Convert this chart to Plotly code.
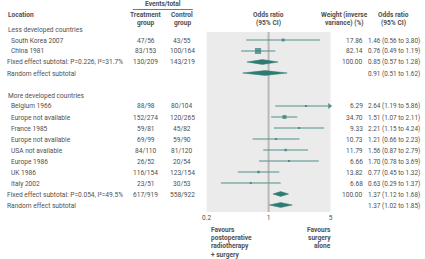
import plotly.graph_objects as go
import math

# ---------------- data ----------------
study_labels = ["South Korea 2007", "China 1981",
                "Belgium 1966", "Europe not available", "France 1985", "Europe not available",
                "USA not available", "Europe 1986", "UK 1986", "Italy 2002"]
study_rows = [0, 1, 6, 7, 8, 9, 10, 11, 12, 13]
study_treat = ["47/56", "83/153", "88/98", "152/274", "59/81", "69/99", "84/110", "26/52", "116/154", "23/51"]
study_ctrl = ["43/55", "100/164", "80/104", "120/265", "45/82", "59/90", "81/120", "20/54", "123/154", "30/53"]
study_or = [1.46, 0.76, 2.64, 1.51, 2.21, 1.21, 1.56, 1.70, 0.77, 0.63]
study_lo = [0.56, 0.49, 1.19, 1.07, 1.15, 0.66, 0.87, 0.78, 0.45, 0.29]
study_hi = [3.80, 1.19, 5.86, 2.11, 4.24, 2.23, 2.79, 3.69, 1.32, 1.37]
study_weight = [17.86, 82.14, 6.29, 34.70, 9.33, 10.73, 11.79, 6.66, 13.82, 6.68]

pooled_labels = ["Fixed effect subtotal: P=0.226, I\u00b2=31.7%", "Random effect subtotal",
                 "Fixed effect subtotal: P=0.054, I\u00b2=49.5%", "Random effect subtotal"]
pooled_rows = [2, 3, 14, 15]
pooled_treat = ["130/209", "", "617/919", ""]
pooled_ctrl = ["143/219", "", "558/922", ""]
pooled_weight = ["100.00", "", "100.00", ""]
pooled_or = [0.85, 0.91, 1.37, 1.37]
pooled_lo = [0.57, 0.51, 1.12, 1.02]
pooled_hi = [1.28, 1.62, 1.68, 1.85]

group_labels = ["Less developed countries", "More developed countries"]
group_rows = [-1, 5]

tick_vals = [0.2, 1, 5]
tick_text = ["0.2", "1", "5"]
x_min, x_max = 0.2, 5

# ---------------- layout constants ----------------
W, H = 425, 259
FONT = "Roboto"
FS = 6.6
FS_OR = 6.4
TXT = "#505050"
TEAL = "#2e7b74"
TEAL_LINE = "#4f8f89"
row0_px, row_step = 40.0, 11.0
panel_top, panel_bot = 32.0, 212.0
panel_left, panel_right = 205.0, 331.0


def row_px(r):
    return row0_px + row_step * r


def py(px):
    return 1 - px / H


def px_x(px):
    return px / W


fig = go.Figure()

# CI whiskers
for r, lo, hi in zip(study_rows, study_lo, study_hi):
    fig.add_trace(go.Scatter(x=[lo, min(hi, x_max * 0.985)], y=[r, r], mode="lines",
                             line=dict(color=TEAL_LINE, width=1), hoverinfo="skip",
                             showlegend=False))
    if hi > x_max:
        fig.add_trace(go.Scatter(x=[x_max * 0.975], y=[r], mode="markers",
                                 marker=dict(symbol="triangle-right", size=5, color=TEAL_LINE),
                                 hoverinfo="skip", showlegend=False, cliponaxis=False))

# point estimates (square size ~ sqrt(weight))
fig.add_trace(go.Scatter(x=study_or, y=study_rows, mode="markers",
                         marker=dict(symbol="square", color=TEAL,
                                     size=[max(2.0, 0.68 * math.sqrt(w)) for w in study_weight],
                                     line=dict(width=0)),
                         hoverinfo="skip", showlegend=False))

# diamonds
dh = 0.22
for r, est, lo, hi in zip(pooled_rows, pooled_or, pooled_lo, pooled_hi):
    fig.add_trace(go.Scatter(x=[lo, est, hi, est, lo], y=[r, r - dh, r, r + dh, r],
                             mode="lines", fill="toself", fillcolor=TEAL,
                             line=dict(color=TEAL, width=0.5), hoverinfo="skip",
                             showlegend=False))

# reference line at 1
fig.add_shape(type="line", xref="x", yref="paper", x0=1, x1=1,
              y0=py(panel_bot), y1=py(panel_top), line=dict(color="#b8b8b8", width=2), layer="below")

ann = []


def text(x, y, s, anchor="left", bold=False, size=FS, yref="paper", color=TXT):
    ann.append(dict(x=x, y=y, xref="paper", yref=yref, text=("<b>%s</b>" % s) if bold else s,
                    showarrow=False, xanchor=anchor, yanchor="middle",
                    font=dict(family=FONT, size=size, color=color)))


# headers
text(px_x(161), py(4.5), "Events/total", anchor="center", bold=True)
fig.add_shape(type="line", xref="paper", yref="paper", x0=px_x(130), x1=px_x(191),
              y0=py(9.5), y1=py(9.5), line=dict(color="#555555", width=0.8))
text(px_x(1), py(15), "Location", bold=True)
text(px_x(143), py(15), "Treatment", anchor="center", bold=True)
text(px_x(143), py(23), "group", anchor="center", bold=True)
text(px_x(180), py(15), "Control", anchor="center", bold=True)
text(px_x(180), py(23), "group", anchor="center", bold=True)
text(px_x(268), py(15), "Odds ratio", anchor="center", bold=True)
text(px_x(268), py(23), "(95% CI)", anchor="center", bold=True)
text(px_x(345), py(15), "Weight (inverse", anchor="center", bold=True)
text(px_x(345), py(23), "variance) (%)", anchor="center", bold=True)
text(px_x(395), py(15), "Odds ratio", anchor="center", bold=True)
text(px_x(395), py(23), "(95% CI)", anchor="center", bold=True)

# group headers
for lab, r in zip(group_labels, group_rows):
    text(px_x(1), py(row_px(r) + 0.5), lab)

# study rows
for lab, r, t, c, w, o, lo, hi in zip(study_labels, study_rows, study_treat, study_ctrl,
                                       study_weight, study_or, study_lo, study_hi):
    y = py(row_px(r) + 0.5)
    text(px_x(4.5), y, lab)
    text(px_x(143), y, t, anchor="center")
    text(px_x(180), y, c, anchor="center")
    text(px_x(366), y, "%.2f" % w, anchor="right")
    text(px_x(424), y, "%.2f (%.2f to %.2f)" % (o, lo, hi), anchor="right", size=FS_OR)

# pooled rows
for lab, r, t, c, w, o, lo, hi in zip(pooled_labels, pooled_rows, pooled_treat, pooled_ctrl,
                                       pooled_weight, pooled_or, pooled_lo, pooled_hi):
    y = py(row_px(r) + 0.5)
    text(px_x(0), y, lab)
    if t:
        text(px_x(143), y, t, anchor="center")
        text(px_x(180), y, c, anchor="center")
    if w:
        text(px_x(366), y, w, anchor="right")
    text(px_x(424), y, "%.2f (%.2f to %.2f)" % (o, lo, hi), anchor="right", size=FS_OR)

# favours labels
for i, s in enumerate(["Favours", "postoperative", "radiotherapy", "+ surgery"]):
    text(px_x(207), py(230 + 8.2 * i), s, bold=True)
for i, s in enumerate(["Favours", "surgery", "alone"]):
    text(px_x(333), py(230 + 8.2 * i), s, anchor="right", bold=True)

# y range in row units to match panel pixels
y_top = (panel_top - row0_px) / row_step
y_bot = (panel_bot - row0_px) / row_step

fig.update_layout(
    width=W, height=H, margin=dict(l=0, r=0, t=0, b=0),
    paper_bgcolor="white", plot_bgcolor="#ebebeb",
    annotations=ann, hovermode=False,
    xaxis=dict(type="log", range=[math.log10(x_min), math.log10(x_max)],
               domain=[px_x(panel_left), px_x(panel_right)],
               tickvals=tick_vals, ticktext=tick_text, showgrid=False, zeroline=False,
               showline=False, ticks="", ticklen=0,
               tickfont=dict(family=FONT, size=FS, color=TXT)),
    yaxis=dict(range=[y_bot, y_top], domain=[py(panel_bot), py(panel_top)],
               showgrid=False, zeroline=False, showticklabels=False, ticks=""),
)

fig.write_html("out.html", config={"displayModeBar": False, "staticPlot": True},
               post_script="document.body.style.margin='0';document.body.style.overflow='hidden';")
